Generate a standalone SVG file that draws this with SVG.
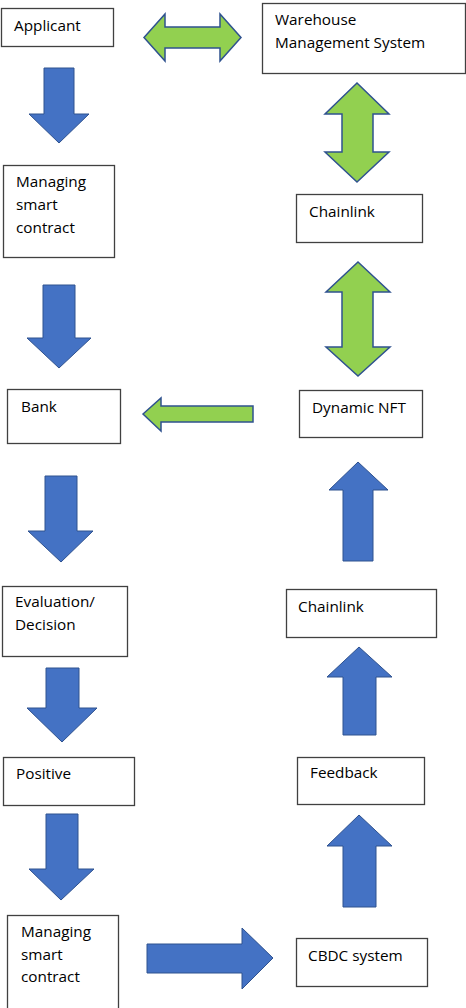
<svg xmlns="http://www.w3.org/2000/svg" width="466" height="1008" viewBox="0 0 466 1008">
<style>
.box{fill:#fff;stroke:#404040;stroke-width:1.3}
.t{font-family:"Open Sans","Noto Sans",sans-serif;font-size:15.3px;fill:#000}
.blue{fill:#4472C4;stroke:#2F528F;stroke-width:1}
.green{fill:#92D050;stroke:#2F528F;stroke-width:1.5}
</style>
<rect width="466" height="1008" fill="#fff"/>
<g id="connectors">
<polygon class="green" points="144,37.5 165,14 165,27 220,27 220,14 241,37.5 220,61 220,48 165,48 165,61"/>
<polygon class="green" points="357,83 389,114 373,114 373,152 389,152 357,182 325,152 342,152 342,114 325,114"/>
<polygon class="green" points="358,262 390,292 373,292 373,347 390,347 358,376 326,347 342,347 342,292 326,292"/>
<polygon class="green" points="143,414 161,398 161,406 253,406 253,422 161,422 161,431"/>
<polygon class="blue" points="44,68 74,68 74,114 89,114 59,143 29,114 44,114"/>
<polygon class="blue" points="43,285 75,285 75,338 91,338 59,368 27,338 43,338"/>
<polygon class="blue" points="45,476 77,476 77,531 93,531 61,562 28,531 45,531"/>
<polygon class="blue" points="46,668 79,668 79,708 97,708 62,742 27,708 46,708"/>
<polygon class="blue" points="46,814 78,814 78,869 94,869 61,900 29,869 46,869"/>
<polygon class="blue" points="147,944 242,944 242,928 273,958 242,989 242,973 147,973"/>
<polygon class="blue" points="359,815 392,846 376,846 376,907 343,907 343,846 327,846"/>
<polygon class="blue" points="359,647 392,677 376,677 376,735 343,735 343,677 327,677"/>
<polygon class="blue" points="358,462 388,490 373,490 373,561 343,561 343,490 329,490"/>
</g>
<g id="applicant"><rect class="box" x="1.5" y="8.5" width="112" height="38"/><text class="t" x="14" y="31">Applicant</text></g>
<g id="wms"><rect class="box" x="262.5" y="3.5" width="203" height="70"/><text class="t" x="275" y="25">Warehouse</text><text class="t" x="275" y="48">Management System</text></g>
<g id="managing1"><rect class="box" x="3.5" y="165.5" width="111" height="92"/><text class="t" x="16" y="187">Managing</text><text class="t" x="16" y="210">smart</text><text class="t" x="16" y="233">contract</text></g>
<g id="chainlink1"><rect class="box" x="296.5" y="194.5" width="126" height="48"/><text class="t" x="309" y="217">Chainlink</text></g>
<g id="bank"><rect class="box" x="7.5" y="389.5" width="113" height="54"/><text class="t" x="21" y="412">Bank</text></g>
<g id="dynamicnft"><rect class="box" x="299.5" y="390.5" width="123" height="47"/><text class="t" x="312" y="413">Dynamic NFT</text></g>
<g id="evaluation"><rect class="box" x="2.5" y="586.5" width="125" height="70"/><text class="t" x="15" y="607">Evaluation/</text><text class="t" x="15" y="630">Decision</text></g>
<g id="chainlink2"><rect class="box" x="286.5" y="589.5" width="150" height="48"/><text class="t" x="298" y="612">Chainlink</text></g>
<g id="positive"><rect class="box" x="3.5" y="757.5" width="131" height="48"/><text class="t" x="16" y="779">Positive</text></g>
<g id="feedback"><rect class="box" x="297.5" y="757.5" width="127" height="47"/><text class="t" x="310" y="778">Feedback</text></g>
<g id="managing2"><rect class="box" x="7.5" y="915.5" width="111" height="95"/><text class="t" x="21" y="937">Managing</text><text class="t" x="21" y="960">smart</text><text class="t" x="21" y="982">contract</text></g>
<g id="cbdc"><rect class="box" x="296.5" y="938.5" width="131" height="48"/><text class="t" x="308" y="961">CBDC system</text></g>
</svg>
